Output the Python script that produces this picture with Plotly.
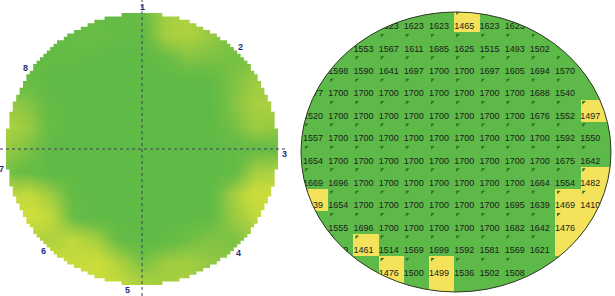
import numpy as np
import plotly.graph_objects as go

# ---------------- Left panel: wafer thickness map ----------------
map_x = [-1, -5/6, -2/3, -1/2, -1/3, -1/6, 0, 1/6, 1/3, 1/2, 2/3, 5/6, 1]
map_y_top_down = [1, 5/6, 2/3, 1/2, 1/3, 1/6, 0, -1/6, -1/3, -1/2, -2/3, -5/6, -1]
map_z_top_down = [
    [1690, 1690, 1690, 1690, 1690, 1690, 1680, 1580, 1560, 1600, 1640, 1650, 1650],
    [1690, 1690, 1690, 1680, 1670, 1690, 1690, 1580, 1560, 1600, 1640, 1650, 1650],
    [1690, 1690, 1690, 1690, 1700, 1700, 1700, 1680, 1630, 1640, 1650, 1640, 1640],
    [1680, 1680, 1700, 1700, 1700, 1700, 1700, 1700, 1700, 1690, 1640, 1590, 1590],
    [1600, 1630, 1690, 1700, 1700, 1700, 1700, 1700, 1700, 1700, 1630, 1570, 1570],
    [1560, 1600, 1680, 1700, 1700, 1700, 1700, 1700, 1700, 1700, 1650, 1590, 1610],
    [1600, 1640, 1700, 1700, 1700, 1700, 1700, 1700, 1700, 1700, 1690, 1680, 1670],
    [1650, 1680, 1700, 1700, 1700, 1700, 1700, 1700, 1700, 1700, 1690, 1580, 1560],
    [1540, 1520, 1590, 1690, 1700, 1700, 1700, 1700, 1700, 1700, 1580, 1490, 1500],
    [1500, 1480, 1530, 1680, 1700, 1700, 1700, 1700, 1700, 1690, 1600, 1530, 1540],
    [1560, 1560, 1560, 1530, 1580, 1680, 1700, 1690, 1660, 1630, 1640, 1600, 1600],
    [1520, 1520, 1520, 1520, 1490, 1560, 1640, 1590, 1580, 1610, 1620, 1620, 1620],
    [1500, 1500, 1500, 1500, 1500, 1520, 1560, 1580, 1570, 1610, 1620, 1620, 1620],
]
site_labels = ["1", "2", "3", "4", "5", "6", "7", "8"]
site_angles_deg = [90, 46, -2, -47, -96, -134, -172, 145]

# ---------------- Right panel: site grid (None = no reading) ----------------
N = None
grid_values = [
    [N, N, N, 1623, 1623, 1623, 1465, 1623, 1623, N, N, N, N],
    [N, N, 1553, 1567, 1611, 1685, 1625, 1515, 1493, 1502, N, N, N],
    [N, 1598, 1590, 1641, 1697, 1700, 1700, 1697, 1605, 1694, 1570, N, N],
    [1677, 1700, 1700, 1700, 1700, 1700, 1700, 1700, 1700, 1688, 1540, N, N],
    [1520, 1700, 1700, 1700, 1700, 1700, 1700, 1700, 1700, 1676, 1552, 1497, N],
    [1557, 1700, 1700, 1700, 1700, 1700, 1700, 1700, 1700, 1700, 1592, 1550, N],
    [1654, 1700, 1700, 1700, 1700, 1700, 1700, 1700, 1700, 1700, 1675, 1642, N],
    [1669, 1696, 1700, 1700, 1700, 1700, 1700, 1700, 1700, 1664, 1554, 1482, N],
    [1439, 1654, 1700, 1700, 1700, 1700, 1700, 1700, 1695, 1639, 1469, 1410, N],
    [N, 1555, 1696, 1700, 1700, 1700, 1700, 1700, 1682, 1642, 1476, N, N],
    [N, 1589, 1461, 1514, 1569, 1699, 1592, 1581, 1569, 1621, N, N, N],
    [N, N, N, 1476, 1500, 1499, 1536, 1502, 1508, N, N, N, N],
    [N, N, N, N, N, N, N, N, N, N, N, N, N],
]
# 1 = flagged (yellow) site, 0 = in spec (green)
grid_flags = [
    [0, 0, 0, 0, 0, 0, 1, 0, 0, 0, 0, 0, 0],
    [0, 0, 0, 0, 0, 0, 0, 0, 0, 0, 0, 0, 0],
    [0, 0, 0, 0, 0, 0, 0, 0, 0, 0, 0, 0, 0],
    [0, 0, 0, 0, 0, 0, 0, 0, 0, 0, 0, 0, 0],
    [0, 0, 0, 0, 0, 0, 0, 0, 0, 0, 0, 1, 1],
    [0, 0, 0, 0, 0, 0, 0, 0, 0, 0, 0, 0, 0],
    [0, 0, 0, 0, 0, 0, 0, 0, 0, 0, 0, 0, 0],
    [0, 0, 0, 0, 0, 0, 0, 0, 0, 0, 0, 1, 1],
    [1, 0, 0, 0, 0, 0, 0, 0, 0, 0, 1, 1, 1],
    [0, 0, 0, 0, 0, 0, 0, 0, 0, 0, 1, 1, 0],
    [0, 0, 1, 0, 0, 0, 0, 0, 0, 0, 1, 0, 0],
    [0, 0, 0, 1, 0, 1, 0, 0, 0, 0, 0, 0, 0],
    [0, 0, 0, 1, 0, 1, 0, 0, 0, 0, 0, 0, 0],
]

# ---------------- styles ----------------
GREEN = "#5db948"
YELLOW = "#f3e25a"
MAP_SCALE = [[0.0, "#d8e13a"], [0.3, "#c2d93c"], [0.6, "#98ca42"],
             [0.85, "#6dbe45"], [1.0, "#60ba46"]]

fig = go.Figure()

# left heatmap
fig.add_trace(go.Heatmap(
    x=map_x, y=map_y_top_down[::-1], z=map_z_top_down[::-1],
    colorscale=MAP_SCALE, zmin=1450, zmax=1700, zsmooth="best",
    showscale=False, hoverinfo="skip", xaxis="x", yaxis="y"))

# right grid
nrow, ncol = len(grid_flags), len(grid_flags[0])
fig.add_trace(go.Heatmap(
    x=list(range(ncol)), y=list(range(nrow)), z=grid_flags,
    colorscale=[[0, GREEN], [1, YELLOW]], zmin=0, zmax=1,
    showscale=False, hoverinfo="skip", xaxis="x2", yaxis="y2"))

tx, ty, tt = [], [], []
for r, row in enumerate(grid_values):
    for c, v in enumerate(row):
        if v is not None:
            tx.append(c)
            ty.append(r)
            tt.append(str(v))
tx = np.array(tx, dtype=float)
ty = np.array(ty, dtype=float)

fig.add_trace(go.Scatter(
    x=tx - 0.5 + 0.13, y=ty - 0.5 + 0.12, mode="markers",
    marker=dict(symbol="triangle-nw", size=4, color="#2f6e22", line=dict(width=0)),
    hoverinfo="skip", showlegend=False, xaxis="x2", yaxis="y2"))
fig.add_trace(go.Scatter(
    x=tx - 0.1, y=ty + 0.26, mode="text", text=tt,
    textfont=dict(family="Liberation Sans Narrow, Arial Narrow, sans-serif", size=9, color="#1c1c1c"),
    hoverinfo="skip", showlegend=False, xaxis="x2", yaxis="y2"))


def rect_path(x0, x1, y0, y1):
    return f"M{x0},{y0} L{x1},{y0} L{x1},{y1} L{x0},{y1} Z"


def ellipse_path(cx, cy, rx, ry, n=360):
    t = np.linspace(0, 2 * np.pi, n, endpoint=False)
    pts = [f"{cx + rx * np.cos(a):.4f},{cy + ry * np.sin(a):.4f}" for a in t[::-1]]
    return "M" + " L".join(pts) + " Z"


def stair_circle_path(r, step):
    # pixel-stepped outline, like a rasterised wafer edge
    ys = np.arange(r, -r - 1e-9, -step)
    right, left = [], []
    for y_top, y_bot in zip(ys[:-1], ys[1:]):
        yc = 0.5 * (y_top + y_bot)
        w = np.sqrt(max(r * r - yc * yc, 0.0))
        w = np.round(w / step) * step
        right += [(w, y_top), (w, y_bot)]
        left += [(-w, y_top), (-w, y_bot)]
    pts = right + left[::-1]
    return "M" + " L".join(f"{x:.4f},{y:.4f}" for x, y in pts) + " Z"


# left axes geometry
LX = [-1.044, 1.088]
LY = [-1.081, 1.096]
# right axes geometry (cell units)
RX = [-0.8095, 11.881]
RY = [12.268, -0.946]
ecx, ecy, erx, ery = 5.571, 5.839, 6.151, 6.25

shapes = [
    dict(type="circle", xref="x2", yref="y2", x0=ecx - erx, x1=ecx + erx,
         y0=ecy - ery, y1=ecy + ery, fillcolor=GREEN, line=dict(width=0), layer="below"),
    dict(type="path", xref="x", yref="y", layer="above", fillrule="evenodd",
         path=rect_path(LX[0] - 0.01, LX[1] + 0.01, LY[0] - 0.01, LY[1] + 0.01)
         + " " + stair_circle_path(1.0, 0.025),
         fillcolor="white", line=dict(width=0)),
    dict(type="path", xref="x2", yref="y2", layer="above", fillrule="evenodd",
         path=rect_path(RX[0] - 0.05, RX[1] + 0.05, RY[0] + 0.05, RY[1] - 0.05)
         + " " + ellipse_path(ecx, ecy, erx, ery),
         fillcolor="white", line=dict(width=0)),
    dict(type="circle", xref="x2", yref="y2", x0=ecx - erx, x1=ecx + erx,
         y0=ecy - ery, y1=ecy + ery, line=dict(color="#2d3a22", width=1), layer="above"),
    dict(type="line", xref="x", yref="y", x0=0, x1=0, y0=LY[0], y1=LY[1],
         line=dict(color="#3a4060", width=1, dash="dot"), layer="above"),
    dict(type="line", xref="x", yref="y", x0=LX[0], x1=1.074, y0=0, y1=0,
         line=dict(color="#3a4060", width=1, dash="dot"), layer="above"),
]

lab_r = 1.045
ang = np.radians(site_angles_deg)
annotations = [
    dict(x=float(lab_r * np.cos(a)), y=float(lab_r * np.sin(a)), xref="x", yref="y",
         text=lab, showarrow=False,
         font=dict(family="Liberation Sans", size=9, color="#1f2d7b", weight="bold"))
    for lab, a in zip(site_labels, ang)
]

ax_common = dict(visible=False, showgrid=False, zeroline=False, fixedrange=True)
fig.update_layout(
    width=615, height=296, margin=dict(l=0, r=0, t=0, b=0),
    paper_bgcolor="white", plot_bgcolor="white", showlegend=False,
    xaxis=dict(domain=[0, 290 / 615], range=LX, **ax_common),
    yaxis=dict(domain=[0, 1], range=LY, **ax_common),
    xaxis2=dict(domain=[295.2 / 615, 1], range=RX, anchor="y2", **ax_common),
    yaxis2=dict(domain=[0, 1], range=RY, anchor="x2", **ax_common),
    shapes=shapes, annotations=annotations,
)

fig.write_html("out.html")
